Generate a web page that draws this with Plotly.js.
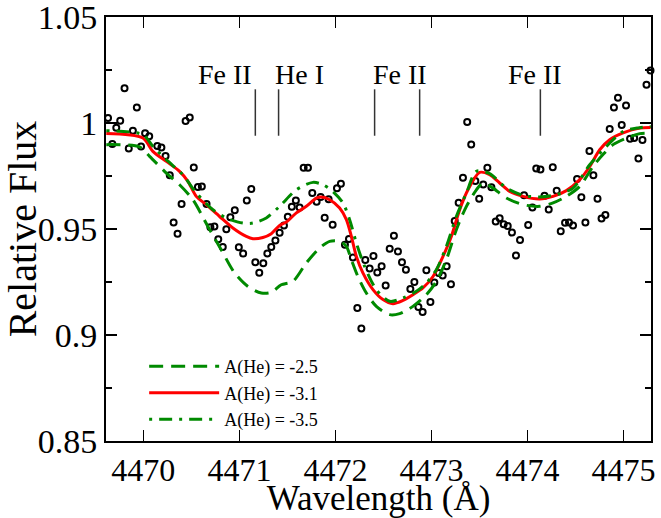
<!DOCTYPE html>
<html><head><meta charset="utf-8">
<script src="https://cdn.plot.ly/plotly-3.0.1.min.js"></script>
<style>body{margin:0;padding:0;background:#fff}#chart{width:661px;height:518px}</style>
</head><body><div id="chart"></div>
<script>
// Observed spectrum (open circles)
const obsWavelength = [4469.632,4469.677,4469.718,4469.759,4469.804,4469.848,4469.891,4469.932,4469.976,4470.018,4470.061,4470.145,4470.188,4470.231,4470.275,4470.315,4470.356,4470.398,4470.440,4470.483,4470.525,4470.568,4470.609,4470.658,4470.698,4470.740,4470.780,4470.827,4470.864,4470.906,4470.952,4470.994,4471.039,4471.077,4471.124,4471.166,4471.207,4471.249,4471.291,4471.332,4471.375,4471.419,4471.464,4471.504,4471.546,4471.588,4471.627,4471.669,4471.714,4471.759,4471.804,4471.846,4471.888,4471.929,4471.971,4472.016,4472.057,4472.099,4472.141,4472.182,4472.228,4472.270,4472.311,4472.356,4472.396,4472.436,4472.481,4472.523,4472.565,4472.609,4472.651,4472.693,4472.734,4472.780,4472.822,4472.864,4472.908,4472.947,4472.989,4473.030,4473.075,4473.117,4473.158,4473.203,4473.242,4473.283,4473.328,4473.372,4473.414,4473.457,4473.497,4473.539,4473.582,4473.624,4473.669,4473.710,4473.752,4473.794,4473.838,4473.880,4473.922,4473.964,4474.007,4474.051,4474.091,4474.135,4474.177,4474.221,4474.263,4474.304,4474.346,4474.391,4474.432,4474.474,4474.516,4474.561,4474.603,4474.645,4474.686,4474.729,4474.771,4474.811,4474.856,4474.900,4474.942,4474.981,4475.026,4475.068,4475.111,4475.155,4475.197,4475.239,4475.281];
const obsFlux = [1.0024,0.9901,0.9978,1.0011,1.0164,0.9880,0.9963,1.0073,0.9889,0.9952,0.9938,0.9891,0.9884,0.9844,0.9754,0.9531,0.9478,0.9618,1.0010,1.0026,0.9790,0.9698,0.9701,0.9618,0.9508,0.9512,0.9452,0.9415,0.9499,0.9555,0.9588,0.9414,0.9384,0.9635,0.9689,0.9343,0.9294,0.9338,0.9385,0.9415,0.9446,0.9482,0.9516,0.9558,0.9605,0.9635,0.9601,0.9789,0.9789,0.9670,0.9629,0.9651,0.9553,0.9640,0.9520,0.9692,0.9714,0.9426,0.9453,0.9366,0.9127,0.9031,0.9354,0.9314,0.9373,0.9295,0.9324,0.9234,0.9407,0.9468,0.9394,0.9343,0.9308,0.9217,0.9250,0.9132,0.9109,0.9305,0.9156,0.9248,0.9293,0.9281,0.9324,0.9239,0.9538,0.9624,0.9742,1.0005,0.9899,0.9727,0.9643,0.9710,0.9789,0.9697,0.9536,0.9551,0.9523,0.9514,0.9483,0.9375,0.9448,0.9659,0.9519,0.9602,0.9785,0.9781,0.9657,0.9592,0.9791,0.9681,0.9490,0.9530,0.9531,0.9516,0.9736,0.9650,0.9531,0.9868,0.9754,0.9643,0.9549,0.9566,0.9972,1.0073,1.0119,0.9991,1.0083,0.9926,0.9929,0.9833,0.9920,1.0181,1.0248];

// Model A(He) = -2.5 (green dashed)
const wave25 = [4469.614,4469.960,4470.065,4470.239,4470.377,4470.516,4470.672,4470.811,4470.950,4471.089,4471.228,4471.332,4471.436,4471.557,4471.697,4471.835,4471.940,4472.044,4472.114,4472.166,4472.234,4472.322,4472.426,4472.565,4472.669,4472.807,4472.947,4473.051,4473.155,4473.259,4473.364,4473.468,4473.536,4473.641,4473.780,4473.953,4474.127,4474.266,4474.405,4474.544,4474.682,4474.786,4474.891,4475.030,4475.169,4475.283];
const flux25 = [0.9898,0.9887,0.9843,0.9764,0.9709,0.9638,0.9512,0.9402,0.9293,0.9229,0.9198,0.9201,0.9237,0.9253,0.9340,0.9410,0.9442,0.9442,0.9418,0.9355,0.9276,0.9198,0.9135,0.9096,0.9101,0.9135,0.9190,0.9253,0.9355,0.9497,0.9607,0.9685,0.9717,0.9693,0.9646,0.9615,0.9607,0.9623,0.9654,0.9701,0.9795,0.9851,0.9898,0.9929,0.9950,0.9953];

// Model A(He) = -3.1 (red solid)
const wave31 = [4469.614,4469.995,4470.099,4470.239,4470.377,4470.464,4470.551,4470.655,4470.794,4470.932,4471.072,4471.141,4471.245,4471.332,4471.419,4471.489,4471.593,4471.697,4471.801,4471.853,4471.940,4472.044,4472.114,4472.166,4472.218,4472.286,4472.391,4472.495,4472.599,4472.703,4472.807,4472.911,4473.016,4473.120,4473.207,4473.294,4473.380,4473.502,4473.606,4473.710,4473.815,4473.953,4474.127,4474.266,4474.405,4474.544,4474.648,4474.752,4474.856,4474.995,4475.169,4475.283];
const flux31 = [0.9950,0.9929,0.9866,0.9819,0.9772,0.9725,0.9654,0.9615,0.9559,0.9505,0.9465,0.9454,0.9460,0.9478,0.9517,0.9533,0.9576,0.9607,0.9646,0.9651,0.9638,0.9599,0.9544,0.9465,0.9371,0.9293,0.9214,0.9167,0.9148,0.9163,0.9190,0.9222,0.9276,0.9371,0.9465,0.9591,0.9685,0.9767,0.9756,0.9717,0.9677,0.9654,0.9642,0.9654,0.9681,0.9733,0.9795,0.9874,0.9921,0.9953,0.9976,0.9979];

// Model A(He) = -3.5 (green dash-dot)
const wave35 = [4469.614,4469.995,4470.099,4470.239,4470.411,4470.551,4470.724,4470.864,4471.036,4471.141,4471.280,4471.419,4471.593,4471.766,4471.870,4471.974,4472.078,4472.148,4472.218,4472.304,4472.426,4472.565,4472.703,4472.843,4472.947,4473.051,4473.155,4473.259,4473.364,4473.468,4473.606,4473.780,4473.953,4474.127,4474.301,4474.474,4474.648,4474.822,4474.995,4475.169,4475.283];
const flux35 = [0.9964,0.9945,0.9890,0.9827,0.9756,0.9670,0.9591,0.9552,0.9528,0.9528,0.9552,0.9607,0.9685,0.9720,0.9709,0.9677,0.9623,0.9544,0.9434,0.9324,0.9214,0.9159,0.9175,0.9206,0.9245,0.9308,0.9418,0.9559,0.9670,0.9772,0.9761,0.9693,0.9659,0.9651,0.9662,0.9693,0.9803,0.9890,0.9960,0.9978,0.9984];

const modelNames = ["A(He) = -2.5", "A(He) = -3.1", "A(He) = -3.5"];

// Line identifications
const idLabels = ["Fe II", "He I", "Fe II", "Fe II"];
const idLabelWavelength = [4470.846, 4471.627, 4472.669, 4474.075];
const idLabelFlux = 1.0228;
const idMarkWavelength = [4471.166, 4471.408, 4472.408, 4472.877, 4474.134];
const idMarkTop = 1.0159;
const idMarkBottom = 0.994;

const xTicks = [4470, 4471, 4472, 4473, 4474, 4475];
const yTicks = [0.85, 0.9, 0.95, 1, 1.05];

const FONT = "Liberation Serif, Times New Roman, serif";

const traces = [
  {x: obsWavelength, y: obsFlux, mode: "markers", type: "scatter", showlegend: false, cliponaxis: false,
   marker: {symbol: "circle-open", size: 6, color: "black", line: {width: 2, color: "black"}}},
  {x: wave25, y: flux25, mode: "lines", type: "scatter", name: modelNames[0],
   line: {color: "#008a00", width: 3, dash: "14px,8px", shape: "spline", smoothing: 0.8}},
  {x: wave31, y: flux31, mode: "lines", type: "scatter", name: modelNames[1],
   line: {color: "#ff0000", width: 3, shape: "spline", smoothing: 0.8}},
  {x: wave35, y: flux35, mode: "lines", type: "scatter", name: modelNames[2],
   line: {color: "#008a00", width: 3, dash: "3px,7px,13px,7px", shape: "spline", smoothing: 0.8}}
];

const shapes = idMarkWavelength.map(w => ({
  type: "line", xref: "x", yref: "y", x0: w, x1: w, y0: idMarkBottom, y1: idMarkTop,
  line: {color: "#333", width: 1.5}
}));

const annotations = idLabels.map((t, i) => ({
  text: t, x: idLabelWavelength[i], y: idLabelFlux, xref: "x", yref: "y",
  showarrow: false, font: {family: FONT, size: 28, color: "black"}
}));

const layout = {
  width: 661, height: 518,
  margin: {l: 106, r: 10, t: 17, b: 77, pad: 0},
  paper_bgcolor: "white", plot_bgcolor: "white",
  font: {family: FONT, color: "black"},
  showlegend: true,
  legend: {x: 0.07, y: 0.219, xanchor: "left", yanchor: "top", bgcolor: "rgba(0,0,0,0)",
           font: {family: FONT, size: 18, color: "black"}, itemwidth: 70, tracegroupgap: 0},
  xaxis: {range: [4469.611, 4475.286], tickvals: xTicks, ticktext: xTicks.map(String),
          ticks: "inside", ticklen: 11, tickwidth: 1.5, tickcolor: "black",
          showline: true, linewidth: 2, linecolor: "black", mirror: "ticks",
          showgrid: false, zeroline: false, ticklabeloverflow: "allow",
          tickfont: {family: FONT, size: 32, color: "black"},
          title: {text: "Wavelength (Å)", font: {family: FONT, size: 35, color: "black"}, standoff: 7}},
  yaxis: {range: [0.85, 1.05001], tickvals: yTicks, ticktext: yTicks.map(String),
          ticks: "inside", ticklen: 11, tickwidth: 1.5, tickcolor: "black",
          minor: {dtick: 0.025, tick0: 0.85, ticks: "inside", ticklen: 6, tickwidth: 1.5, tickcolor: "black"},
          showline: true, linewidth: 2, linecolor: "black", mirror: "ticks",
          showgrid: false, zeroline: false, ticklabeloverflow: "allow",
          tickfont: {family: FONT, size: 34, color: "black"},
          title: {text: "Relative Flux", font: {family: FONT, size: 40, color: "black"}, standoff: 2}},
  shapes: shapes,
  annotations: annotations
};

Plotly.newPlot("chart", traces, layout, {displayModeBar: false, staticPlot: true});
</script>
</body></html>
